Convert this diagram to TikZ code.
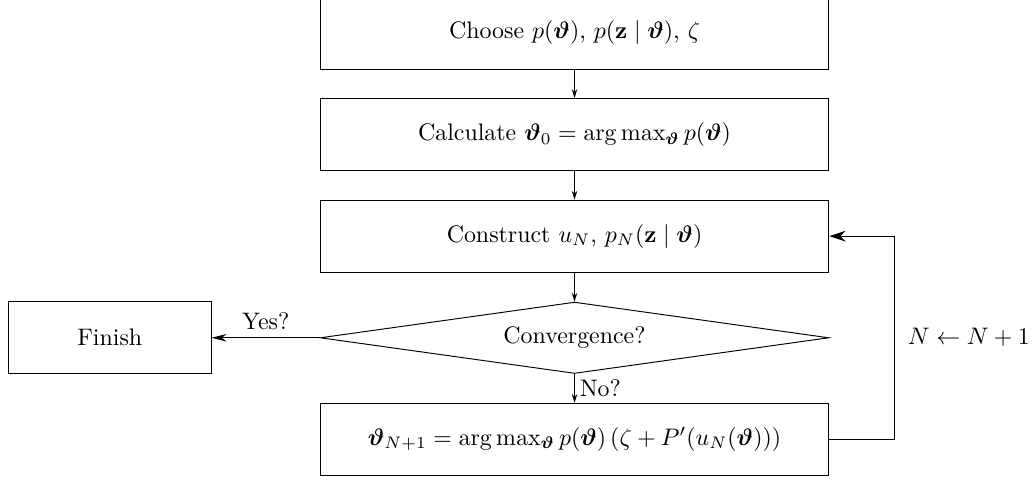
\documentclass[tikz,border=0pt]{standalone}
\usepackage{amsmath}
\usepackage{amssymb}
\usepackage{bm}
\usetikzlibrary{shapes.geometric, positioning, arrows.meta}

\begin{document}
\begin{tikzpicture}[node distance=0.42cm,
    block/.style={draw, rectangle, minimum width=7.48cm, minimum height=1.06cm},
    decision/.style={draw, diamond, aspect=7, inner sep=0pt, minimum width=7.48cm, minimum height=1.05cm},
    small/.style={-{Stealth[length=1.3mm, width=0.8mm]}},
    mid/.style={-{Stealth[length=2.2mm, width=1.1mm]}},
    big/.style={-{Stealth[length=2.4mm, width=1.6mm]}}]
    \useasboundingbox (-8.449,0.485) rectangle (6.786,-6.574);
    \node[block] (choose) at (0,0) {Choose $p(\bm{\vartheta})$, $p(\mathbf{z} \mid \bm{\vartheta})$, $\zeta$};
    \node[block, below=of choose] (calc) {Calculate $\bm{\vartheta}_0 = \arg\max_{\bm{\vartheta}} p(\bm{\vartheta})$};
    \node[block, below=of calc] (cons) {Construct $u_N$, $p_N(\mathbf{z} \mid \bm{\vartheta})$};
    \node[decision, below=0.425cm of cons] (conv) {Convergence?};
    \node[block, below=0.425cm of conv] (upd) {$\bm{\vartheta}_{N+1} = \arg\max_{\bm{\vartheta}} p(\bm{\vartheta})\,(\zeta + P'(u_N(\bm{\vartheta})))$};
    \node[block, minimum width=2.98cm, left=1.59cm of conv] (finish) {Finish};
    \path[small] (choose) edge (calc) (calc) edge (cons) (cons) edge (conv)
              (conv) edge node[pos=0, anchor=north west, inner sep=2pt] {No?} (upd);
    \path[mid] (conv) edge node[above] {Yes?} (finish);
    \draw[big] (upd.east) -- ++(0.96,0) |- node[pos=0.25, right=2pt] {$N \leftarrow N+1$} (cons.east);
  \end{tikzpicture}
\end{document}
